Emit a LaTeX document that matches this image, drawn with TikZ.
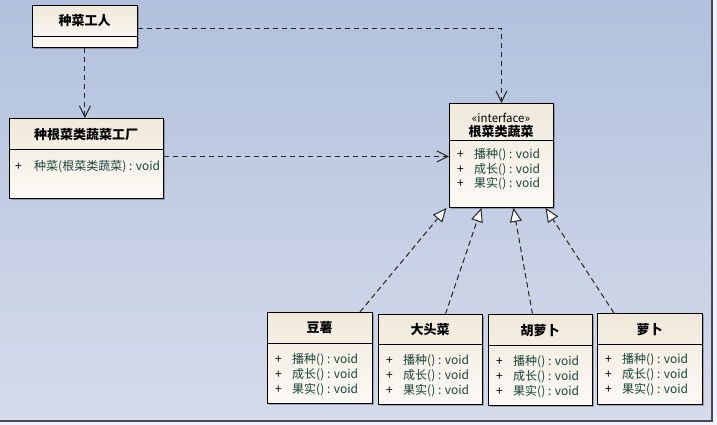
\documentclass[tikz,border=0pt]{standalone}
\usepackage{fontspec}
\setmainfont{Noto Sans CJK SC}
\usetikzlibrary{arrows.meta,shadows,calc}
\definecolor{bgtop}{RGB}{178,193,221}
\definecolor{bgbot}{RGB}{214,219,235}
\definecolor{boxtop}{RGB}{240,233,219}
\definecolor{boxbot}{RGB}{252,250,246}
\definecolor{meth}{RGB}{28,68,58}
\definecolor{frame}{RGB}{70,72,85}
\tikzset{
  x=1pt, y=-1pt,
  classbox/.style={draw=black, line width=0.9pt, top color=boxtop, bottom color=boxbot,
    anchor=north west, inner sep=0pt, drop shadow={shadow xshift=2pt, shadow yshift=-2pt, opacity=0.25, fill=black}},
  divider/.style={draw=black, line width=0.9pt},
  headtxt/.style={font=\fontsize{13}{15}\selectfont\bfseries, inner sep=0pt},
  stereo/.style={font=\fontsize{11.5}{13}\selectfont, inner sep=0pt},
  plus/.style={font=\fontsize{12}{14}\selectfont, inner sep=0pt, anchor=west},
  methtxt/.style={font=\fontsize{12}{14}\selectfont, text=meth, inner sep=0pt, anchor=west},
  dep/.style={draw=black!85, line width=1pt, dash pattern=on 5.5pt off 3.5pt,
    -{Straight Barb[length=11pt,width=11pt,line width=1pt]}},
  real/.style={draw=black!85, line width=1pt, dash pattern=on 5.5pt off 3.5pt,
    -{Triangle[open,fill=white,length=14pt,width=12pt,line width=1pt]}}
}
\newcommand{\methods}[4]{% name, left x, first y, step
  \foreach \t [count=\i from 0] in {播种() : void, 成长() : void, 果实() : void}{
    \node[plus] at (#2+8, #3+\i*#4) {+};
    \node[methtxt] at (#2+25, #3+\i*#4) {\t};
  }
}
\begin{document}
\begin{tikzpicture}
\useasboundingbox (0,0) rectangle (717,425);
\fill[white!95!blue] (0,0) rectangle (717,425);
\shade[top color=bgtop, bottom color=bgbot] (0,0) rectangle (712,421);
\draw[frame, line width=1.8pt] (712,0) -- (712,421) -- (0,421);

% worker
\node[classbox, minimum width=105pt, minimum height=42pt] (worker) at (32,5) {};
\draw[divider] (32,36) -- (137,36);
\node[headtxt] (workerT) at (84.5,21) {种菜工人};

% factory
\node[classbox, minimum width=154pt, minimum height=80pt] (factory) at (9,118) {};
\draw[divider] (9,149) -- (163,149);
\node[headtxt] (factoryT) at (86,135) {种根菜类蔬菜工厂};
\node[plus] (fp) at (15,167) {+};
\node[methtxt] (fm) at (34,167) {种菜(根菜类蔬菜) : void};

% interface
\node[classbox, minimum width=104pt, minimum height=104pt] (iface) at (449,103) {};
\draw[divider] (449,140) -- (553,140);
\node[stereo] (ifS) at (501,118) {«interface»};
\node[headtxt] (ifT) at (501,132) {根菜类蔬菜};
\methods{iface}{449}{155}{14.5}

% children
\node[classbox, minimum width=105pt, minimum height=91pt] (douxu) at (267,312) {};
\draw[divider] (267,343) -- (372,343);
\node[headtxt] at (319.5,328) {豆薯};
\methods{douxu}{267}{360}{15}

\node[classbox, minimum width=104pt, minimum height=90pt] (datou) at (378,314) {};
\draw[divider] (378,344) -- (482,344);
\node[headtxt] at (430,330) {大头菜};
\methods{datou}{378}{361}{15}

\node[classbox, minimum width=104pt, minimum height=91pt] (huluobo) at (488,314) {};
\draw[divider] (488,345) -- (592,345);
\node[headtxt] at (540,331) {胡萝卜};
\methods{huluobo}{488}{362}{15}

\node[classbox, minimum width=105pt, minimum height=91pt] (luobo) at (597,313) {};
\draw[divider] (597,344) -- (702,344);
\node[headtxt] at (649.5,330) {萝卜};
\methods{luobo}{597}{360}{15}

% connectors
\draw[dep] ([yshift=-2pt]worker.east) -| (iface.north);
\draw[dep] (worker.south) -- (worker.south |- factory.north);
\draw[dep] ([yshift=2pt]factory.east) -- ([yshift=2pt]factory.east -| iface.west);

\draw[real] ([xshift=40pt]douxu.north) -- ([xshift=-55pt]iface.south);
\draw[real] ([xshift=15pt]datou.north) -- ([xshift=-20pt]iface.south);
\draw[real] ([xshift=-8pt]huluobo.north) -- ([xshift=12pt]iface.south);
\draw[real] ([xshift=-36pt]luobo.north) -- ([xshift=44pt]iface.south);
\end{tikzpicture}
\end{document}
